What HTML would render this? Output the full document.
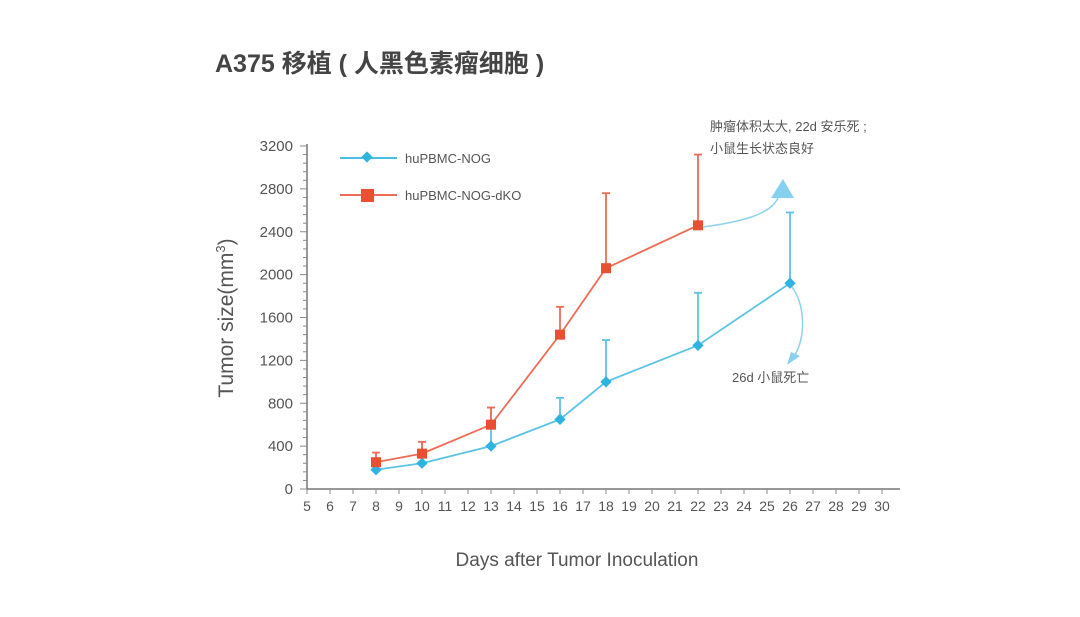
<!DOCTYPE html>
<html><head><meta charset="utf-8"><style>
body{margin:0;background:#fff;}
svg{display:block;font-family:"Liberation Sans","Noto Sans CJK SC",sans-serif;}
</style></head><body>
<svg id="chart" width="1080" height="617" viewBox="0 0 1080 617">
<text x="215" y="72" font-size="25" font-weight="bold" fill="#444">A375 移植 ( 人黑色素瘤细胞 )</text>
<g id="axes"></g>
<g id="marks"></g>
<text x="577" y="566" font-size="19" fill="#555" text-anchor="middle">Days after Tumor Inoculation</text>
<text transform="translate(233,318) rotate(-90)" font-size="21" fill="#555" text-anchor="middle">Tumor size(mm<tspan font-size="13" dy="-8">3</tspan><tspan dy="8">)</tspan></text>
<g>
<line x1="340" y1="158" x2="397" y2="158" stroke="#4cbde3" stroke-width="2"/>
<rect x="363" y="153" width="8" height="8" transform="rotate(45 367 157)" fill="#2fb3e0"/>
<text x="405" y="163" font-size="13" fill="#555">huPBMC-NOG</text>
<line x1="340" y1="195" x2="397" y2="195" stroke="#ee6b55" stroke-width="2"/>
<rect x="361" y="189" width="13" height="13" fill="#ea4f31"/>
<text x="405" y="200" font-size="13" fill="#555">huPBMC-NOG-dKO</text>
</g>
<text x="710" y="131" font-size="13" fill="#555">肿瘤体积太大, 22d 安乐死 ;</text>
<text x="710" y="153" font-size="13" fill="#555">小鼠生长状态良好</text>
<text x="732" y="382" font-size="13" fill="#555">26d 小鼠死亡</text>
<path d="M703 227 C740 222 770 215 778 198" fill="none" stroke="#8fd2ee" stroke-width="1.5"/>
<polygon points="783,179 771,198 794,198" fill="#86d0f0"/>
<path d="M792 287 C805 305 806 335 795 355" fill="none" stroke="#8fd2ee" stroke-width="1.5"/>
<polygon points="787,365 800,356 791,352" fill="#86d0f0"/>
</svg>
<script>
const days=[8,10,13,16,18,22,26];
const nogValues=[180,240,400,650,1000,1340,1920];
const nogErrTop=[180,440,760,850,1390,1830,2580];
const dkoDays=[8,10,13,16,18,22];
const dkoValues=[250,330,600,1440,2060,2460];
const dkoErrTop=[340,440,760,1700,2760,3120];
const yTicks=[0,400,800,1200,1600,2000,2400,2800,3200];
const xTicks=[5,6,7,8,9,10,11,12,13,14,15,16,17,18,19,20,21,22,23,24,25,26,27,28,29,30];
const NS="http://www.w3.org/2000/svg";
const X=d=>307+(d-5)*23;
const Y=v=>489-v*343/3200;
function mk(t,a,p){const e=document.createElementNS(NS,t);for(const k in a)e.setAttribute(k,a[k]);p.appendChild(e);return e;}
const ax=document.getElementById('axes'),mg=document.getElementById('marks');
let l=mk('line',{x1:307,y1:Y(0),x2:900,y2:Y(0),stroke:'#777','stroke-width':1.5},ax);


l=mk('line',{x1:307,y1:Y(0),x2:307,y2:Y(3200)-2,stroke:'#777','stroke-width':1.5},ax);


for(let v=0;v<=3200;v+=80){const maj=v%400===0;mk('line',{x1:maj?300:303,y1:Y(v),x2:307,y2:Y(v),stroke:'#888','stroke-width':1},ax);}
yTicks.forEach(v=>{const t=mk('text',{x:293,y:Y(v)+5,'font-size':15,fill:'#555','text-anchor':'end'},ax);t.textContent=v;

});
xTicks.forEach(d=>{mk('line',{x1:X(d),y1:Y(0),x2:X(d),y2:Y(0)+5,stroke:'#888'},ax);const t=mk('text',{x:X(d),y:Y(0)+22,'font-size':14,fill:'#555','text-anchor':'middle'},ax);t.textContent=d;

});
function series(ds,vals,errs,col,lineCol,shape,name){
  ds.forEach((d,i)=>{if(errs[i]>vals[i]){const e=mk('line',{x1:X(d),y1:Y(vals[i]),x2:X(d),y2:Y(errs[i]),stroke:lineCol,'stroke-width':1.8},mg);
  
  
  mk('line',{x1:X(d)-4,y1:Y(errs[i]),x2:X(d)+4,y2:Y(errs[i]),stroke:lineCol,'stroke-width':1.8},mg);}});
  const p=mk('polyline',{points:ds.map((d,i)=>X(d)+','+Y(vals[i])).join(' '),fill:'none',stroke:lineCol,'stroke-width':1.8},mg);
  
  
  ds.forEach((d,i)=>{let m;const x=X(d),y=Y(vals[i]);
    if(shape==='d')m=mk('rect',{x:x-4,y:y-4,width:8,height:8,fill:col,transform:`rotate(45 ${x} ${y})`},mg);
    else m=mk('rect',{x:x-5,y:y-5,width:10,height:10,fill:col},mg);
    
    });
}
series(days,nogValues,nogErrTop,'#2fb3e0','#5cc3e6','d','nog');
series(dkoDays,dkoValues,dkoErrTop,'#ea4f31','#ee6b55','s','dko');
</script>
</body></html>
